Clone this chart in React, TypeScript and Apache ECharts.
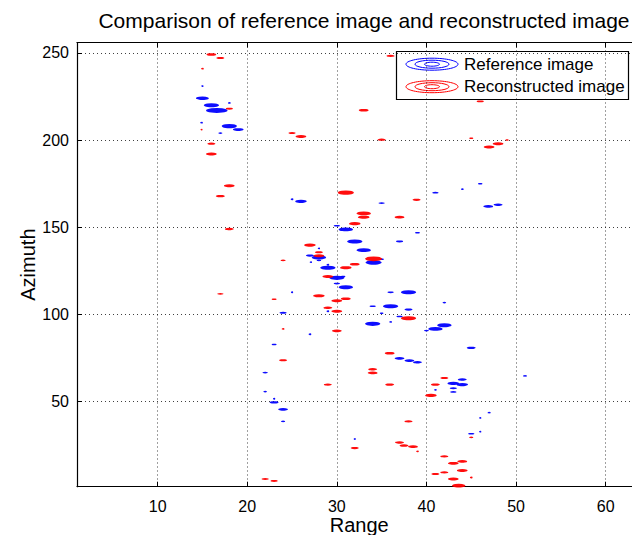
import React, { useEffect, useRef } from "react";
import * as echarts from "echarts";

// [range, azimuth, extent along range]
const refBlobs: number[][] = [
  [15, 231, 0.25], [15, 224, 1.45], [16, 220, 1.7], [16.6, 217, 2.4], [18, 221.3, 0.3],
  [14.9, 210, 0.3], [18, 208, 1.7], [19, 206, 1.2], [17, 204, 0.45], [25, 166, 0.3],
  [26, 164.8, 1.3], [35, 163.8, 0.7], [41, 169.8, 0.7], [46.9, 161.9, 1.1], [48, 162.9, 1.0],
  [44, 171.8, 0.3], [46, 174.9, 0.5], [30, 150.8, 0.7], [31, 148.7, 1.6], [39, 146.8, 0.55],
  [32, 141.8, 1.7], [37, 141.8, 0.8], [28, 137.8, 0.25], [33, 136.8, 1.6], [27, 133.7, 0.9],
  [28, 132.6, 1.6], [28, 130.9, 0.5], [34.1, 129.7, 1.8], [35, 131.6, 0.5], [27.1, 129.9, 0.25],
  [29, 126.7, 1.7], [29, 128.4, 0.3], [30, 120.9, 1.7], [30.7, 121.7, 0.5], [30, 117.6, 0.7],
  [31, 115.5, 1.6], [25, 112.6, 0.25], [36, 112.6, 0.7], [38, 112.6, 1.7], [29, 101.7, 0.3],
  [34, 104.6, 0.7], [36, 104.6, 1.7], [38, 102.7, 0.9], [35, 100.6, 0.4], [24, 100.8, 0.8],
  [37, 98.7, 0.7], [34, 94.5, 1.7], [36, 95.6, 0.3], [27, 88.5, 0.3], [41, 91.6, 1.6],
  [42, 93.7, 1.6], [40, 90.6, 0.55], [42, 106.7, 0.4], [45, 80.7, 1.0], [37, 74.7, 1.1],
  [38.1, 73.4, 1.1], [39, 72.4, 1.0], [51, 64.6, 0.45], [44, 62.5, 1.0], [43, 60.3, 1.3],
  [44, 59.6, 1.3], [41, 56.6, 0.3], [43, 57.5, 0.8], [43, 55.4, 0.7], [47, 43.5, 0.35],
  [46, 40.5, 0.25], [45, 31.4, 0.7], [46, 32.6, 0.25], [32, 28.4, 0.2], [23, 82.6, 0.55],
  [22, 66.5, 0.6], [22, 55.6, 0.4], [23, 51.5, 0.25], [23, 49.4, 1.0], [24, 45.4, 1.1],
  [24, 38.5, 0.45],
];

const recBlobs: number[][] = [
  [16, 249.1, 1.1], [17, 247.1, 0.9], [15, 241, 0.3], [18, 218, 0.8], [14.9, 206, 0.2],
  [16, 197.9, 0.9], [16, 192, 1.2], [18, 173.8, 1.2], [17, 167.8, 1.0], [18, 148.9, 1.0],
  [17, 111.7, 0.7], [25, 204, 0.8], [26, 202, 1.2], [36, 248.3, 0.9], [46, 222.2, 0.8],
  [33, 217.1, 1.1], [35, 200.2, 0.9], [45, 201, 0.45], [49, 200, 0.35], [47, 196, 1.2],
  [48, 197.9, 1.2], [31, 169.8, 1.8], [38.9, 165.7, 0.9], [33, 157.9, 1.6], [33, 155.7, 1.3],
  [32, 152, 1.3], [37, 155.7, 1.1], [27, 139.7, 1.3], [28, 135.6, 0.9], [28, 133.6, 1.2],
  [34.1, 131.8, 1.9], [24, 130.9, 0.55], [32, 128.7, 1.1], [31, 126.7, 1.3], [29, 121.7, 1.2],
  [23, 108.6, 0.55], [28, 110.6, 1.3], [30, 107.7, 1.2], [31, 108.9, 1.1], [29, 103.7, 1.0],
  [30, 101.7, 1.2], [38, 97.7, 1.7], [30, 90.5, 1.1], [24, 91.6, 0.3], [35.9, 77.6, 1.1],
  [34, 68.4, 1.0], [34, 66.3, 1.1], [35.9, 59.6, 1.0], [42, 63.4, 0.9], [41, 59.6, 1.0],
  [40.5, 53.4, 1.3], [45, 29.3, 0.45], [38, 38.5, 0.9], [32, 23.2, 0.9], [37, 26.4, 1.0],
  [37.5, 24.6, 1.0], [38.5, 24.0, 1.1], [39, 21.3, 0.3], [42, 18.4, 0.9], [43, 14.4, 1.2],
  [44, 15.5, 1.1], [41, 8.3, 0.9], [42, 9.2, 0.9], [44, 10.3, 1.2], [45, 6.3, 0.3],
  [43, 5.4, 1.2], [43.6, 1.6, 1.5], [24, 73.6, 0.9], [29, 59.6, 0.9], [22, 5.4, 0.8],
  [23, 4.3, 0.8],
];

const xRange = [1, 64];
const yRange = [1, 256];
const titleText = "Comparison of reference image and reconstructed image";
const xName = "Range";
const yName = "Azimuth";
const legendNames = ["Reference image", "Reconstructed image"];

const FONT = "'Liberation Sans', Arial, Helvetica, sans-serif";

export default function App() {
  const ref = useRef<HTMLDivElement>(null);
  useEffect(() => {
    if (!ref.current) return;
    const chart = echarts.init(ref.current, undefined, { renderer: "svg" });
    const gridLeft = 77;
    const gridTop = 42.5;
    const gridWidth = 564.5;
    const gridHeight = 444.2;
    const ppx = gridWidth / (xRange[1] - xRange[0]);
    const sizeFn = (val: number[]) => {
      const w = Math.max(2, val[2] * ppx);
      const h = Math.min(5, Math.max(1.6, w * 0.27));
      return [w, h];
    };
    const gridLine = { show: true, lineStyle: { color: "#000", type: [1, 3] as any, width: 1, opacity: 0.75 } };
    const blob = (color: string) => ({ color, opacity: 0.95 });
    const legendItem = (cy: number, color: string, label: string) => [
      { type: "ellipse", shape: { cx: 432, cy, rx: 26, ry: 6 }, style: { fill: "none", stroke: color, lineWidth: 1 } },
      { type: "ellipse", shape: { cx: 432, cy, rx: 17, ry: 4 }, style: { fill: "none", stroke: color, lineWidth: 1 } },
      { type: "ellipse", shape: { cx: 432, cy, rx: 7.5, ry: 2 }, style: { fill: "none", stroke: color, lineWidth: 1 } },
      {
        type: "text",
        x: 464,
        y: cy,
        style: { text: label, fill: "#000", font: `17px ${FONT}`, verticalAlign: "middle", align: "left" },
      },
    ];
    chart.setOption({
      animation: false,
      backgroundColor: "#fff",
      textStyle: { fontFamily: FONT },
      title: {
        text: titleText,
        left: 359,
        top: 5,
        textAlign: "center",
        textStyle: { fontSize: 21, fontWeight: "normal", color: "#000", fontFamily: FONT },
      },
      grid: {
        left: gridLeft,
        top: gridTop,
        width: gridWidth,
        height: gridHeight,
        containLabel: false,
        outerBoundsMode: "none",
      },
      xAxis: [
        {
          type: "value",
          min: xRange[0],
          max: xRange[1],
          splitNumber: 6,
          name: xName,
          nameLocation: "middle",
          nameGap: 28.5,
          nameMoveOverlap: false,
          nameTextStyle: { fontSize: 20, color: "#000", fontFamily: FONT, lineHeight: 20 },
          axisLine: { show: true, onZero: false, lineStyle: { color: "#000", width: 1.2 } },
          axisTick: { show: true, inside: true, length: 5, lineStyle: { color: "#000" } },
          axisLabel: { show: true, showMinLabel: false, showMaxLabel: false, fontSize: 16, color: "#000", margin: 12, fontFamily: FONT },
          splitLine: gridLine,
        },
        {
          type: "value",
          position: "top",
          min: xRange[0],
          max: xRange[1],
          splitNumber: 6,
          axisLine: { show: true, onZero: false, lineStyle: { color: "#000", width: 1.2 } },
          axisTick: { show: true, inside: true, length: 5, lineStyle: { color: "#000" } },
          axisLabel: { show: false },
          splitLine: { show: false },
        },
      ],
      yAxis: [
        {
          type: "value",
          min: yRange[0],
          max: yRange[1],
          splitNumber: 5,
          name: yName,
          nameLocation: "middle",
          nameGap: 39,
          nameMoveOverlap: false,
          nameTextStyle: { fontSize: 20, color: "#000", fontFamily: FONT },
          axisLine: { show: true, onZero: false, lineStyle: { color: "#000", width: 1.2 } },
          axisTick: { show: true, inside: true, length: 5, lineStyle: { color: "#000" } },
          axisLabel: { show: true, showMinLabel: false, showMaxLabel: false, fontSize: 16, color: "#000", margin: 8, fontFamily: FONT },
          splitLine: gridLine,
        },
      ],
      series: [
        {
          name: legendNames[0],
          type: "scatter",
          symbol: "circle",
          data: refBlobs,
          symbolSize: sizeFn,
          itemStyle: blob("#0000ff"),
          clip: true,
          z: 3,
        },
        {
          name: legendNames[1],
          type: "scatter",
          symbol: "circle",
          data: recBlobs,
          symbolSize: sizeFn,
          itemStyle: blob("#ff0000"),
          clip: true,
          z: 4,
        },
      ],
      graphic: [
        {
          type: "group",
          z: 100,
          children: [
            {
              type: "rect",
              shape: { x: 396.5, y: 51.5, width: 232, height: 48 },
              style: { fill: "#fff", stroke: "#000", lineWidth: 1.2 },
            },
            ...legendItem(64.2, "#0000ff", legendNames[0]),
            ...legendItem(86.7, "#ff0000", legendNames[1]),
          ],
        },
      ],
    });
    return () => chart.dispose();
  }, []);
  return <div ref={ref} style={{ width: 632, height: 535, position: "absolute", left: 0, top: 0 }} />;
}
